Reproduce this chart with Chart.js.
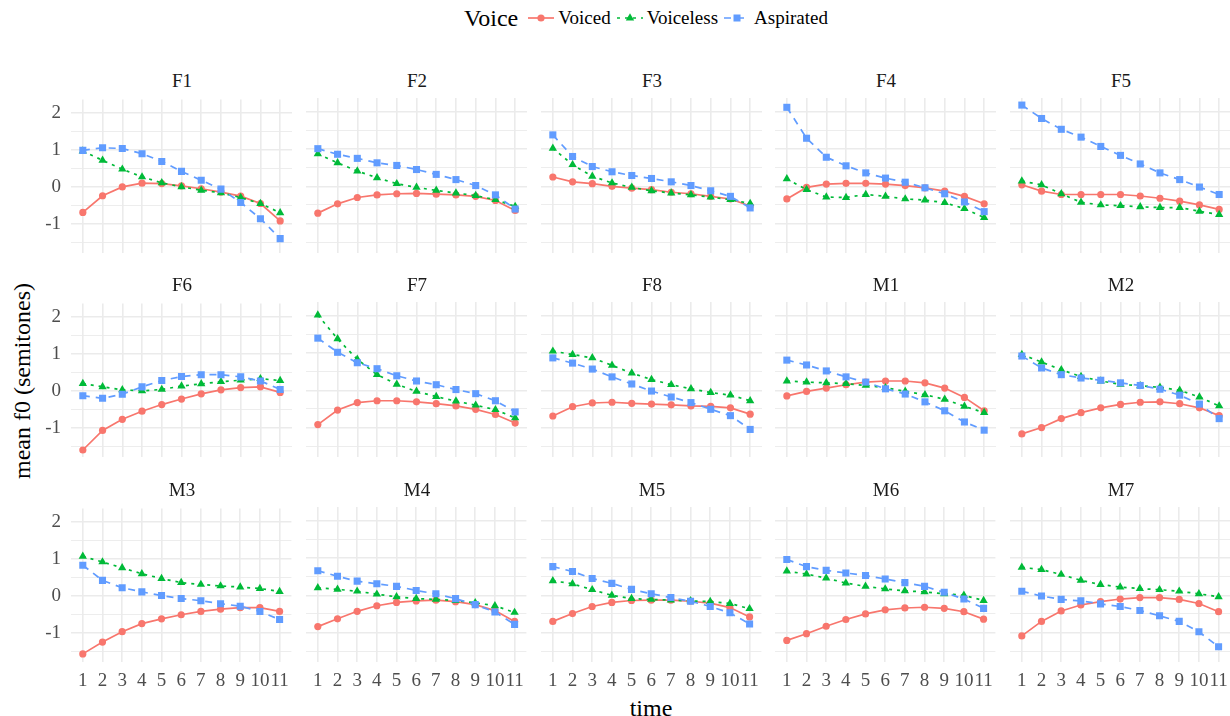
<!DOCTYPE html>
<html>
<head>
<meta charset="utf-8">
<script src="https://cdn.jsdelivr.net/npm/chart.js@4.4.0/dist/chart.umd.min.js"></script>
<style>
body { margin: 0; background: #fff; width: 1230px; height: 716px; overflow: hidden; position: relative; font-family: "Liberation Serif", "Times New Roman", serif; }
canvas.panel { position: absolute; }
.strip { position: absolute; width: 222px; height: 22px; line-height: 22px; text-align: center; font-size: 19px; color: #1a1a1a; }
#legend { position: absolute; left: 464px; top: 4px; height: 28px; display: flex; align-items: center; color: #000; }
#legend .title { font-size: 24px; margin-right: 10px; }
#legend .item { display: flex; align-items: center; font-size: 19px; margin-right: 6px; }
#legend svg { margin-right: 4px; }
#ylab { position: absolute; left: 22px; top: 381px; width: 300px; margin-left: -150px; margin-top: -14px; height: 28px; line-height: 28px; text-align: center; font-size: 24px; transform: rotate(-90deg); }
#xlab { position: absolute; left: 551px; top: 694px; width: 200px; height: 28px; line-height: 28px; text-align: center; font-size: 24px; }
</style>
</head>
<body>
<div id="legend"><span class="title">Voice</span></div>
<div id="ylab">mean f0 (semitones)</div>
<div id="xlab">time</div>
<script>
var times = [1, 2, 3, 4, 5, 6, 7, 8, 9, 10, 11];
var speakers = ['F1', 'F2', 'F3', 'F4', 'F5', 'F6', 'F7', 'F8', 'M1', 'M2', 'M3', 'M4', 'M5', 'M6', 'M7'];

// mean f0 per speaker, one value per time step
var voiced = {
    F1: [-0.69, -0.24, 0.00, 0.10, 0.09, 0.03, -0.05, -0.14, -0.25, -0.45, -0.92],
    F2: [-0.72, -0.47, -0.30, -0.23, -0.20, -0.19, -0.21, -0.23, -0.27, -0.38, -0.65],
    F3: [0.25, 0.12, 0.07, 0.00, -0.05, -0.09, -0.16, -0.20, -0.27, -0.34, -0.53],
    F4: [-0.34, -0.03, 0.06, 0.08, 0.08, 0.06, 0.02, -0.04, -0.13, -0.27, -0.47],
    F5: [0.04, -0.13, -0.22, -0.22, -0.22, -0.22, -0.26, -0.32, -0.40, -0.50, -0.62],
    F6: [-1.60, -1.07, -0.77, -0.55, -0.37, -0.22, -0.08, 0.03, 0.09, 0.11, -0.04],
    F7: [-0.92, -0.53, -0.33, -0.28, -0.28, -0.31, -0.36, -0.42, -0.51, -0.65, -0.88],
    F8: [-0.69, -0.44, -0.34, -0.32, -0.35, -0.37, -0.39, -0.42, -0.43, -0.47, -0.64],
    M1: [-0.15, -0.03, 0.06, 0.15, 0.22, 0.25, 0.25, 0.20, 0.06, -0.19, -0.55],
    M2: [-1.17, -1.00, -0.76, -0.60, -0.47, -0.38, -0.32, -0.31, -0.36, -0.47, -0.68],
    M3: [-1.57, -1.25, -0.97, -0.75, -0.62, -0.51, -0.42, -0.36, -0.32, -0.32, -0.42],
    M4: [-0.84, -0.63, -0.43, -0.28, -0.19, -0.15, -0.13, -0.17, -0.25, -0.41, -0.70],
    M5: [-0.70, -0.49, -0.30, -0.19, -0.14, -0.13, -0.13, -0.16, -0.21, -0.33, -0.58],
    M6: [-1.21, -1.03, -0.83, -0.65, -0.50, -0.39, -0.34, -0.32, -0.35, -0.44, -0.64],
    M7: [-1.09, -0.70, -0.42, -0.26, -0.17, -0.10, -0.06, -0.06, -0.11, -0.22, -0.44]
};
var voiceless = {
    F1: [0.97, 0.72, 0.48, 0.27, 0.11, 0.00, -0.09, -0.16, -0.29, -0.45, -0.70],
    F2: [0.87, 0.63, 0.41, 0.23, 0.07, -0.03, -0.11, -0.18, -0.25, -0.36, -0.54],
    F3: [1.02, 0.58, 0.27, 0.09, -0.03, -0.12, -0.18, -0.23, -0.29, -0.36, -0.46],
    F4: [0.20, -0.09, -0.29, -0.30, -0.22, -0.27, -0.34, -0.37, -0.44, -0.60, -0.84],
    F5: [0.14, 0.04, -0.20, -0.43, -0.50, -0.52, -0.55, -0.57, -0.57, -0.67, -0.76],
    F6: [0.20, 0.11, 0.03, 0.00, 0.04, 0.13, 0.19, 0.25, 0.29, 0.33, 0.28],
    F7: [2.02, 1.38, 0.83, 0.42, 0.16, -0.03, -0.17, -0.29, -0.40, -0.52, -0.74],
    F8: [1.05, 0.96, 0.87, 0.67, 0.46, 0.29, 0.15, 0.04, -0.06, -0.13, -0.28],
    M1: [0.25, 0.22, 0.20, 0.18, 0.13, 0.07, -0.03, -0.12, -0.24, -0.43, -0.60],
    M2: [0.96, 0.76, 0.55, 0.37, 0.25, 0.16, 0.12, 0.08, 0.00, -0.18, -0.42],
    M3: [1.07, 0.92, 0.76, 0.60, 0.47, 0.36, 0.31, 0.27, 0.24, 0.20, 0.12],
    M4: [0.20, 0.16, 0.11, 0.03, -0.04, -0.09, -0.11, -0.14, -0.20, -0.28, -0.46],
    M5: [0.39, 0.31, 0.15, 0.00, -0.09, -0.11, -0.13, -0.15, -0.17, -0.22, -0.36],
    M6: [0.65, 0.57, 0.46, 0.33, 0.24, 0.17, 0.12, 0.09, 0.04, 0.00, -0.14],
    M7: [0.75, 0.69, 0.56, 0.40, 0.29, 0.22, 0.18, 0.15, 0.11, 0.04, -0.04]
};
var aspirated = {
    F1: [0.99, 1.06, 1.04, 0.90, 0.69, 0.42, 0.18, -0.06, -0.42, -0.86, -1.40],
    F2: [1.01, 0.86, 0.75, 0.63, 0.56, 0.45, 0.32, 0.18, 0.02, -0.23, -0.61],
    F3: [1.38, 0.80, 0.53, 0.39, 0.29, 0.21, 0.12, 0.02, -0.12, -0.27, -0.58],
    F4: [2.12, 1.29, 0.78, 0.55, 0.36, 0.22, 0.11, -0.04, -0.20, -0.42, -0.68],
    F5: [2.18, 1.82, 1.53, 1.32, 1.07, 0.83, 0.60, 0.36, 0.18, -0.02, -0.22],
    F6: [-0.13, -0.20, -0.09, 0.11, 0.28, 0.39, 0.44, 0.44, 0.38, 0.27, 0.04],
    F7: [1.40, 1.02, 0.74, 0.58, 0.39, 0.25, 0.15, 0.02, -0.09, -0.28, -0.58],
    F8: [0.87, 0.73, 0.57, 0.36, 0.17, -0.02, -0.18, -0.33, -0.51, -0.68, -1.05],
    M1: [0.81, 0.68, 0.52, 0.36, 0.22, 0.04, -0.10, -0.31, -0.55, -0.85, -1.07],
    M2: [0.92, 0.60, 0.42, 0.33, 0.27, 0.20, 0.13, 0.03, -0.13, -0.37, -0.76],
    M3: [0.83, 0.42, 0.22, 0.11, 0.01, -0.07, -0.13, -0.21, -0.28, -0.42, -0.64],
    M4: [0.66, 0.51, 0.38, 0.31, 0.24, 0.13, 0.04, -0.09, -0.25, -0.45, -0.78],
    M5: [0.77, 0.64, 0.45, 0.32, 0.16, 0.04, -0.06, -0.16, -0.30, -0.47, -0.77],
    M6: [0.96, 0.77, 0.67, 0.60, 0.53, 0.44, 0.34, 0.24, 0.08, -0.10, -0.35],
    M7: [0.11, -0.02, -0.11, -0.15, -0.23, -0.30, -0.41, -0.55, -0.70, -0.98, -1.38]
};

var yTicks = [-1.5, -1, -0.5, 0, 0.5, 1, 1.5, 2];
var yMin = -1.79, yMax = 2.37;

var voices = [
    { name: 'Voiced', values: voiced, color: '#F8766D', dash: [], point: 'circle', radius: 3.6 },
    { name: 'Voiceless', values: voiceless, color: '#00BA38', dash: [3, 5], point: 'triangle', radius: 4.8 },
    { name: 'Aspirated', values: aspirated, color: '#619CFF', dash: [7, 6], point: 'rect', radius: 5 }
];

// panel geometry (page pixels)
var colLeft = [71, 306, 541, 775, 1010];
var rowTop = [98, 302, 507];
var panelW = 222, panelH = 155;
var axisW = 60, padTop = 20, padRight = 4, axisH = 40;
var gridCol = '#EBEBEB';
var tickFont = { family: 'Liberation Serif', size: 19 };

// legend keys
var legend = document.getElementById('legend');
voices.forEach(function (v) {
    var mark;
    if (v.point === 'circle') mark = '<circle cx="13" cy="9" r="3.6" fill="' + v.color + '"/>';
    else if (v.point === 'triangle') mark = '<polygon points="13,4.2 17.2,11.4 8.8,11.4" fill="' + v.color + '"/>';
    else mark = '<rect x="9.5" y="5.5" width="7" height="7" fill="' + v.color + '"/>';
    var item = document.createElement('span');
    item.className = 'item';
    item.innerHTML = '<svg width="26" height="18"><line x1="0" y1="9" x2="26" y2="9" stroke="' + v.color +
        '" stroke-width="1.7" stroke-dasharray="' + (v.dash.length ? v.dash.join(',') : 'none') + '"/>' + mark + '</svg>' + v.name;
    legend.appendChild(item);
});

speakers.forEach(function (sp, i) {
    var col = i % 5, row = Math.floor(i / 5);

    var strip = document.createElement('div');
    strip.className = 'strip';
    strip.textContent = sp;
    strip.style.left = colLeft[col] + 'px';
    strip.style.top = (rowTop[row] - 28) + 'px';
    document.body.appendChild(strip);

    var canvas = document.createElement('canvas');
    canvas.className = 'panel';
    canvas.width = axisW + panelW + padRight;
    canvas.height = padTop + panelH + axisH;
    canvas.style.left = (colLeft[col] - axisW) + 'px';
    canvas.style.top = (rowTop[row] - padTop) + 'px';
    document.body.appendChild(canvas);

    new Chart(canvas.getContext('2d'), {
        type: 'line',
        data: {
            datasets: voices.map(function (v, k) {
                return {
                    label: v.name,
                    data: times.map(function (t, j) { return { x: t, y: v.values[sp][j] }; }),
                    borderColor: v.color,
                    backgroundColor: v.color,
                    borderWidth: 1.7,
                    borderDash: v.dash,
                    pointStyle: v.point,
                    pointRadius: v.radius,
                    pointBorderWidth: 0,
                    tension: 0,
                    fill: false,
                    order: 2 - k
                };
            })
        },
        options: {
            responsive: false,
            animation: false,
            events: [],
            devicePixelRatio: 1,
            layout: { padding: { left: 0, top: padTop, right: padRight, bottom: 0 } },
            plugins: { legend: { display: false }, tooltip: { enabled: false } },
            scales: {
                x: {
                    type: 'linear',
                    min: 0.4,
                    max: 11.6,
                    afterBuildTicks: function (s) { s.ticks = times.map(function (t) { return { value: t }; }); },
                    afterFit: function (s) { s.height = axisH; },
                    border: { display: false },
                    grid: { color: gridCol, lineWidth: 1.6, drawTicks: false },
                    ticks: {
                        display: row === 2,
                        autoSkip: false,
                        maxRotation: 0,
                        padding: 8,
                        color: '#4D4D4D',
                        font: tickFont,
                        callback: function (v) { return String(v); }
                    }
                },
                y: {
                    min: yMin,
                    max: yMax,
                    afterBuildTicks: function (s) { s.ticks = yTicks.map(function (t) { return { value: t }; }); },
                    afterFit: function (s) { s.width = axisW; },
                    border: { display: false },
                    grid: {
                        color: gridCol,
                        drawTicks: false,
                        lineWidth: function (ctx) { return Number.isInteger(ctx.tick.value) ? 1.6 : 0.9; }
                    },
                    ticks: {
                        display: col === 0,
                        autoSkip: false,
                        padding: 10,
                        color: '#4D4D4D',
                        font: tickFont,
                        callback: function (v) { return Number.isInteger(v) ? String(v) : ''; }
                    }
                }
            }
        }
    });
});
</script>
</body>
</html>
